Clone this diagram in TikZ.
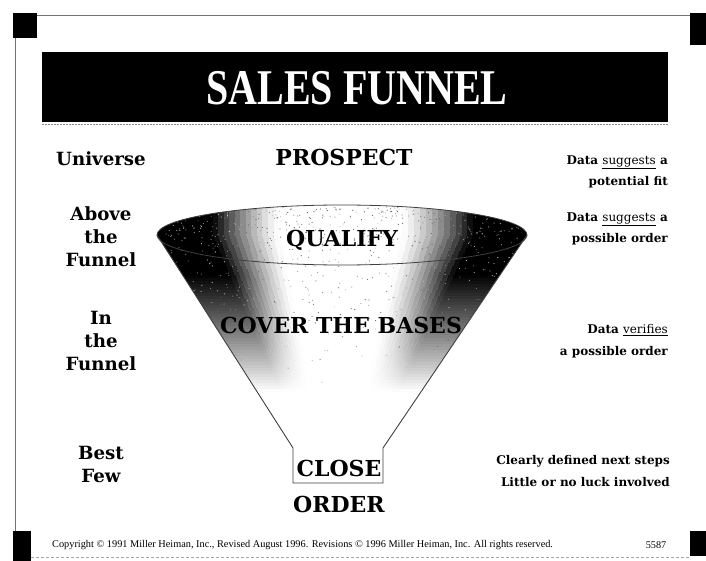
\documentclass[tikz,border=0pt]{standalone}
\usepackage{fontspec}
\setmainfont{DejaVu Serif}
\newfontfamily\titlefont{Liberation Serif}
\newfontfamily\notefont{Liberation Serif}
\begin{document}
\begin{tikzpicture}[x=1pt,y=-1pt,
  stage/.style={font=\bfseries\fontsize{18.2}{23}\selectfont, align=center, inner sep=0pt},
  steplabel/.style={font=\bfseries\fontsize{22}{22}\selectfont, inner sep=0pt},
  note/.style={font=\bfseries\fontsize{12}{21.5}\selectfont, align=right, anchor=east, inner sep=0pt},
  funnelline/.style={draw=black!75, line width=0.9pt},
  corner/.style={fill=black},
  frameline/.style={draw=black!55, line width=0.7pt}]
\useasboundingbox (0,0) rectangle (706,561);
\fill[white] (0,0) rectangle (706,561);

% page corner marks and frame
\fill[corner] (13,13) rectangle (37,38);
\fill[corner] (690,13) rectangle (706,45);
\fill[corner] (13,531) rectangle (31,561);
\fill[corner] (690,531) rectangle (706,556);
\draw[frameline] (37,15) -- (690,15);
\draw[frameline] (15,38) -- (15,531);
\draw[frameline, black!35, dash pattern=on 3pt off 2pt] (31,557) -- (690,557);

% title banner
\fill[black] (42,52) rectangle (668,122);
\node[text=white, inner sep=0pt] (title) at (357,88)
  {\scalebox{0.8}[1]{\titlefont\bfseries\fontsize{50}{50}\selectfont SALES FUNNEL}};
\draw[black!45, line width=0.6pt, dash pattern=on 2pt off 1pt] (42,124) -- (668,124);

% funnel corners
\coordinate (tl) at (157,235);
\coordinate (tr) at (527,235);
\coordinate (nl) at (293,448);
\coordinate (nr) at (383,448);
\coordinate (bl) at (293,483);
\coordinate (br) at (383,483);

% shaded funnel body: dark walls, graded inwards, fading out lower down
\begin{scope}
  \clip (tl) arc[start angle=180, end angle=360, x radius=185, y radius=30]
        -- (nr) -- (nl) -- cycle;
  \foreach \k in {0,...,62} {
    \pgfmathsetmacro\yy{203+3*\k}
    \pgfmathsetmacro\yc{\yy+1.5}
    \pgfmathsetmacro\xl{\yc<235 ? 157 : 157+(\yc-235)/213*136}
    \pgfmathsetmacro\xr{\yc<235 ? 527 : 527-(\yc-235)/213*144}
    \pgfmathsetmacro\w{\xr-\xl}
    \pgfmathsetmacro\f{min(1,max(0,(392-\yc)/117))}
    \pgfmathsetmacro\dk{100*\f}
    \fill[black!\dk] (\xl-3,\yy) rectangle (\xl+0.155*\w,\yy+3.4);
    \fill[black!\dk] (\xr-0.145*\w,\yy) rectangle (\xr+3,\yy+3.4);
    \foreach \j in {0,...,11} {
      \pgfmathsetmacro\g{\dk*(1-(\j+0.5)/12)^1.3}
      \pgfmathsetmacro\ta{0.15+\j*0.015}
      \pgfmathsetmacro\tb{0.145+\j*0.016}
      \fill[black!\g] (\xl+\ta*\w,\yy) rectangle (\xl+\ta*\w+0.016*\w,\yy+3.4);
      \fill[black!\g] (\xr-\tb*\w-0.017*\w,\yy) rectangle (\xr-\tb*\w,\yy+3.4);
    }
  }
  % halftone grain
  \pgfmathsetseed{4242}
  \foreach \i in {1,...,750} {
    \pgfmathsetmacro\gx{165+rnd*355}
    \pgfmathsetmacro\gy{207+185*rnd*rnd}
    \pgfmathsetmacro\gc{round(22+rnd*45)}
    \fill[black!\gc] (\gx,\gy) circle[radius=0.6];
  }
\end{scope}

% funnel outline
\draw[funnelline] (tl) -- (nl) -- (bl) -- (br) -- (nr) -- (tr);
\draw[funnelline, line width=0.8pt] (342,235) ellipse [x radius=185, y radius=30];

% stage labels
\node[steplabel] (prospect) at (344,157) {PROSPECT};
\node[steplabel] (qualify) at (342,240) {QUALIFY};
\node[steplabel] (cover) at (341,325) {COVER THE BASES};
\node[steplabel] (close) at (339,468) {CLOSE};
\node[steplabel] (order) at (339,504) {ORDER};

% left column
\node[stage] (universe) at (101,159) {Universe};
\node[stage] (above) at (101,237) {Above\\the\\Funnel};
\node[stage] (in) at (101,341) {In\\the\\Funnel};
\node[stage] (best) at (101,464) {Best\\Few};

% right column
\node[note] (n1) at (668,172) {Data \underline{\mdseries suggests} a\\potential fit};
\node[note] (n2) at (668,229) {Data \underline{\mdseries suggests} a\\possible order};
\node[note] (n3) at (668,341) {Data \underline{\mdseries verifies}\\a possible order};
\node[note] (n4) at (670,471) {Clearly defined next steps\\Little or no luck involved};

% footer
\node[anchor=west, inner sep=0pt, font=\notefont\fontsize{10.3}{10}\selectfont] (copy) at (52,545)
  {Copyright © 1991 Miller Heiman, Inc., Revised August 1996. Revisions © 1996 Miller Heiman, Inc. All rights reserved.};
\node[inner sep=0pt, font=\notefont\fontsize{10.2}{10}\selectfont] (code) at (656,545) {5587};
\end{tikzpicture}
\end{document}
